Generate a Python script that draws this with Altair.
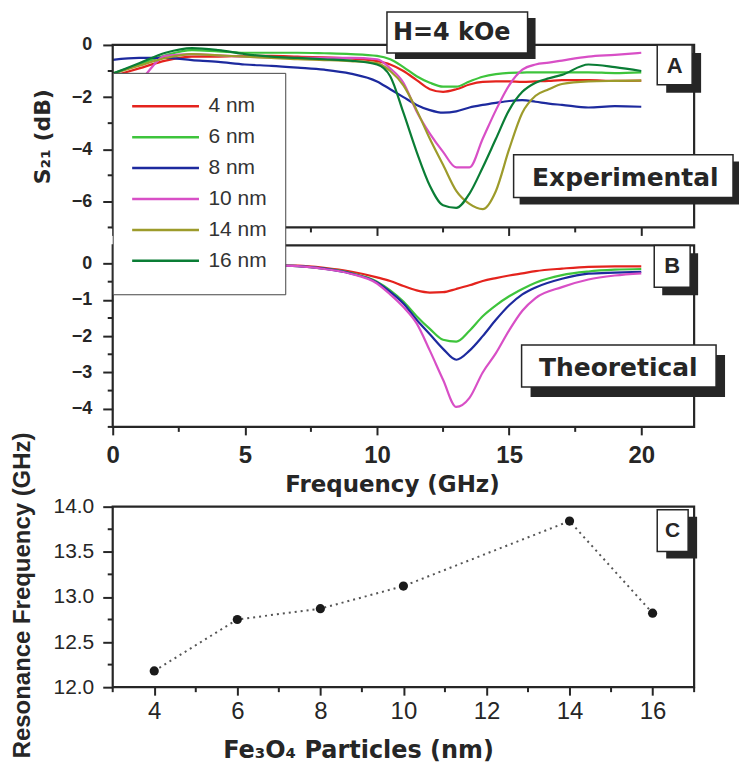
import altair as alt
import pandas as pd

# ---------------- data ----------------
SIZES = ["4 nm", "6 nm", "8 nm", "10 nm", "14 nm", "16 nm"]
COLORS = ["#e4231d", "#3ec43c", "#1d2a9e", "#d84fc6", "#9d9b2b", "#0a7d35"]

# Panel A : experimental S21 (dB) vs frequency (GHz)
EXP_FREQ = [0, 1, 2, 3, 4, 5, 6, 7, 8, 9, 10, 10.5, 11, 11.5, 12, 12.5, 13, 13.5,
            14, 14.5, 15, 15.5, 16, 16.5, 17, 18, 19, 20]
EXP_4NM = [-1.2, -0.9, -0.6, -0.45, -0.45, -0.42, -0.42, -0.45, -0.48, -0.52, -0.62,
           -0.75, -1.0, -1.35, -1.7, -1.8, -1.7, -1.52, -1.42, -1.4, -1.4, -1.42, -1.4,
           -1.38, -1.35, -1.35, -1.38, -1.37]
EXP_6NM = [-1.1, -0.75, -0.4, -0.2, -0.25, -0.3, -0.3, -0.3, -0.32, -0.35, -0.42,
           -0.55, -0.85, -1.2, -1.45, -1.6, -1.6, -1.4, -1.22, -1.12, -1.07, -1.06, -1.05,
           -1.05, -1.05, -1.05, -1.08, -1.05]
EXP_8NM = [-0.57, -0.5, -0.5, -0.58, -0.65, -0.75, -0.8, -0.87, -0.95, -1.1, -1.4,
           -1.7, -2.0, -2.3, -2.5, -2.6, -2.55, -2.4, -2.3, -2.22, -2.15, -2.12, -2.18,
           -2.25, -2.3, -2.4, -2.35, -2.37]
EXP_10NM = [-2.0, -1.4, -0.42, -0.35, -0.4, -0.45, -0.48, -0.5, -0.5, -0.5, -0.55,
            -0.9, -1.45, -2.55, -3.4, -4.1, -4.7, -4.7, -3.6, -2.5, -1.55, -0.95, -0.75,
            -0.68, -0.6, -0.45, -0.38, -0.3]
EXP_14NM = [-1.1, -0.8, -0.5, -0.35, -0.4, -0.45, -0.5, -0.55, -0.58, -0.62, -0.7,
            -1.0, -1.55, -2.5, -3.6, -4.6, -5.6, -6.1, -6.3, -5.6, -4.0, -2.6, -1.95,
            -1.7, -1.5, -1.4, -1.38, -1.37]
EXP_16NM = [-1.1, -0.7, -0.3, -0.12, -0.2, -0.35, -0.45, -0.5, -0.55, -0.6, -0.75,
            -1.2, -2.6, -4.1, -5.4, -6.15, -6.25, -5.7, -4.7, -3.6, -2.5, -1.8, -1.45,
            -1.28, -1.15, -0.75, -0.85, -1.0]

# Panel B : theoretical S21 (dB) vs frequency (GHz)
THEO_FREQ = [0, 2, 4, 6, 7, 8, 9, 10, 10.5, 11, 11.5, 12, 12.5, 13, 13.5, 14, 14.5,
             15, 15.5, 16, 17, 18, 19, 20]
THEO_4NM = [-0.02, -0.03, -0.04, -0.05, -0.06, -0.12, -0.22, -0.38, -0.48, -0.62, -0.74,
            -0.8, -0.79, -0.7, -0.6, -0.48, -0.4, -0.33, -0.27, -0.21, -0.14, -0.09,
            -0.08, -0.08]
THEO_6NM = [-0.02, -0.03, -0.04, -0.05, -0.07, -0.14, -0.26, -0.5, -0.74, -1.05, -1.45,
            -1.8, -2.1, -2.15, -1.85, -1.45, -1.15, -0.9, -0.7, -0.53, -0.32, -0.22,
            -0.17, -0.15]
THEO_8NM = [-0.02, -0.03, -0.04, -0.05, -0.07, -0.14, -0.27, -0.52, -0.78, -1.1, -1.55,
            -1.95, -2.35, -2.65, -2.4, -2.0, -1.55, -1.15, -0.85, -0.66, -0.42, -0.28,
            -0.25, -0.23]
THEO_10NM = [-0.02, -0.03, -0.04, -0.05, -0.07, -0.15, -0.28, -0.55, -0.85, -1.2, -1.65,
             -2.4, -3.2, -3.95, -3.7, -3.0, -2.47, -1.84, -1.3, -0.95, -0.65, -0.44,
             -0.33, -0.27]

# Panel C : resonance frequency vs particle size
PARTICLE_NM = [4, 6, 8, 10, 14, 16]
RES_FREQ_GHZ = [12.18, 12.75, 12.87, 13.12, 13.84, 12.82]

# tick values
X_MAJOR = [0, 5, 10, 15, 20]
X_MINOR = [2.5, 7.5, 12.5, 17.5]
A_Y_MAJOR = [0, -2, -4, -6]
A_Y_MINOR = [-1, -3, -5, -7]
B_Y_MAJOR = [0, -1, -2, -3, -4]
B_Y_MINOR = [-0.5, -1.5, -2.5, -3.5, -4.5]
C_X_MAJOR = [4, 6, 8, 10, 12, 14, 16]
C_X_MINOR = [3, 5, 7, 9, 11, 13, 15, 17]
C_Y_MAJOR = [12.0, 12.5, 13.0, 13.5, 14.0]
C_Y_MINOR = [12.25, 12.75, 13.25, 13.75]

# ---------------- helpers ----------------
INK = "#262626"
W = 583
HA, HB, HC = 183, 182, 181
C_GAP = 62
HC_VIEW = HC + C_GAP
SANS = "Liberation Sans"
WIDE = "DejaVu Sans"
ONE = pd.DataFrame({"k": [0]})


def to_long(freq, series):
    rows = []
    for name, vals in zip(SIZES, series):
        for f, v in zip(freq, vals):
            rows.append({"size": name, "freq": f, "dB": v})
    return pd.DataFrame(rows)


exp_df = to_long(EXP_FREQ, [EXP_4NM, EXP_6NM, EXP_8NM, EXP_10NM, EXP_14NM, EXP_16NM])
theo_df = to_long(THEO_FREQ, [THEO_4NM, THEO_6NM, THEO_8NM, THEO_10NM])
res_df = pd.DataFrame({"nm": PARTICLE_NM, "ghz": RES_FREQ_GHZ})


def frame(x1, y1, x2, y2):
    return alt.Chart(ONE).mark_rect(fill="transparent", stroke=INK, strokeWidth=2.2).encode(
        x=alt.value(x1), x2=alt.value(x2), y=alt.value(y1), y2=alt.value(y2))


def tag(x1, y1, x2, y2, dx, dy, text, font, size, cx, cy):
    shadow = alt.Chart(ONE).mark_rect(fill=INK).encode(
        x=alt.value(x1 + dx), x2=alt.value(x2 + dx),
        y=alt.value(y1 + dy), y2=alt.value(y2 + dy))
    face = alt.Chart(ONE).mark_rect(fill="white", stroke=INK, strokeWidth=1.5).encode(
        x=alt.value(x1), x2=alt.value(x2), y=alt.value(y1), y2=alt.value(y2))
    label = alt.Chart(ONE).mark_text(
        text=text, font=font, fontSize=size, fontWeight="bold", color=INK,
        align="center", baseline="middle").encode(x=alt.value(cx), y=alt.value(cy))
    return [shadow, face, label]


def y_minor(vals, y_enc_fn):
    # minor ticks: same field name and axis as the main layer so the axes merge
    return alt.Chart(pd.DataFrame({"v": vals})).transform_calculate(
        **{y_enc_fn[0]: "datum.v"}).mark_rule(color=INK, strokeWidth=2).encode(
        y=y_enc_fn[1], x=alt.value(-5), x2=alt.value(0))


def x_minor(vals, x_enc_fn, h):
    return alt.Chart(pd.DataFrame({"v": vals})).transform_calculate(
        **{x_enc_fn[0]: "datum.v"}).mark_rule(color=INK, strokeWidth=2).encode(
        x=x_enc_fn[1], y=alt.value(h), y2=alt.value(h + 5))


def y_axis_ab(values, title=None, title_x=-70, h=HA):
    kw = dict(values=values, labelFont=SANS, labelFontSize=18, labelFontWeight="bold",
              labelColor=INK, labelPadding=11, labelFlush=False, tickSize=10, tickWidth=2,
              tickColor=INK, domain=False, grid=False)
    if title:
        return alt.Axis(title=title, titleFont=WIDE, titleFontSize=22, titleFontWeight="bold",
                        titleColor=INK, titleX=title_x, titleY=h / 2, titleBaseline="middle",
                        titleAngle=270, **kw)
    return alt.Axis(title=None, **kw)


x_scale = alt.Scale(domain=[0, 22], nice=False)
ya_scale = alt.Scale(domain=[-7, 0], nice=False)
yb_scale = alt.Scale(domain=[-4.5, 0.5], nice=False)
xc_scale = alt.Scale(domain=[3, 17], nice=False)
yc_scale = alt.Scale(domain=[12, 14], range=[HC_VIEW, C_GAP], nice=False, zero=False)

# ---------------- panel A ----------------
xa = alt.X("freq:Q", scale=x_scale,
           axis=alt.Axis(values=X_MAJOR, labels=False, tickSize=8, tickWidth=2,
                         tickColor=INK, domain=False, grid=False, title=None))
ya = alt.Y("dB:Q", scale=ya_scale, axis=y_axis_ab(A_Y_MAJOR, "S₂₁ (dB)", -70, HA))
lines_a = alt.Chart(exp_df).mark_line(strokeWidth=2.2, interpolate="monotone").encode(
    x=xa, y=ya,
    color=alt.Color("size:N", scale=alt.Scale(domain=SIZES, range=COLORS), legend=None),
)
panel_a = alt.layer(
    lines_a,
    y_minor(A_Y_MINOR, ("dB", ya)),
    x_minor(X_MINOR, ("freq", xa), HA),
    frame(0, 0, W, HA),
    *tag(275, -33, 416, 8, 8, 6, "H=4 kOe", WIDE, 24, 340, -12),
    *tag(546, 0, 581, 40, 9, 8, "A", SANS, 22, 563.5, 21),
    *tag(402, 110, 622, 153, 6, 7, "Experimental", WIDE, 25, 514, 133),
).properties(width=W, height=HA)

# ---------------- panel B ----------------
legend_b = alt.Legend(
    orient="none", legendX=0, legendY=-173, title=None, symbolType="stroke",
    symbolSize=4489, symbolStrokeWidth=2.5, labelFont=SANS, labelFontSize=21,
    labelColor="#333333", labelOffset=8, fillColor="white", strokeColor="#444444",
    padding=18, clipHeight=31, rowPadding=0, labelLimit=200)

xb = alt.X("freq:Q", scale=x_scale,
           axis=alt.Axis(values=X_MAJOR, labelFont=SANS, labelFontSize=24,
                         labelFontWeight="bold", labelColor=INK, labelPadding=9,
                         labelFlush=False, tickSize=8, tickWidth=2, tickColor=INK,
                         domain=False, grid=False, title="Frequency (GHz)", titleFont=WIDE,
                         titleFontSize=23, titleFontWeight="bold", titleColor=INK,
                         titleX=280, titleY=65, titleBaseline="alphabetic"))
yb = alt.Y("dB:Q", scale=yb_scale, axis=y_axis_ab(B_Y_MAJOR))
lines_b = alt.Chart(theo_df).mark_line(strokeWidth=2.2, interpolate="monotone").encode(
    x=xb, y=yb,
    color=alt.Color("size:N", scale=alt.Scale(domain=SIZES, range=COLORS), legend=legend_b),
)
panel_b = alt.layer(
    lines_b,
    y_minor(B_Y_MINOR, ("dB", yb)),
    x_minor(X_MINOR, ("freq", xb), HB),
    frame(0, 0, W, HB),
    *tag(543, 0, 579, 42, 8, 8, "B", SANS, 22, 561, 21),
    *tag(410, 100, 605, 142, 9, 10, "Theoretical", WIDE, 25, 507, 123),
).properties(width=W, height=HB)

# ---------------- panel C ----------------
xc = alt.X("nm:Q", scale=xc_scale,
           axis=alt.Axis(values=C_X_MAJOR, labelFont=SANS, labelFontSize=24,
                         labelColor=INK, labelPadding=4, labelFlush=False, tickSize=8,
                         tickWidth=2, tickColor=INK, domain=False, grid=False,
                         title="Fe₃O₄ Particles (nm)", titleFont=WIDE, titleFontSize=24,
                         titleFontWeight="bold", titleColor=INK, titleX=246, titleY=71,
                         titleBaseline="alphabetic"))
yc = alt.Y("ghz:Q", scale=yc_scale,
           axis=alt.Axis(values=C_Y_MAJOR, format=".1f", labelFont=SANS, labelFontSize=21,
                         labelColor=INK, labelPadding=9, labelFlush=False, tickSize=10,
                         tickWidth=2, tickColor=INK, domain=False, grid=False,
                         title="Resonance Frequency (GHz)", titleFont=SANS, titleFontSize=24,
                         titleFontWeight="bold", titleColor=INK, titleX=-90,
                         titleY=C_GAP + HC / 2 - 2, titleBaseline="middle", titleAngle=270))
line_c = alt.Chart(res_df).mark_line(color="#555555", strokeWidth=2, strokeDash=[2, 4]).encode(x=xc, y=yc)
pts_c = alt.Chart(res_df).mark_circle(size=85, color="#1a1a1a", opacity=1).encode(x=xc, y=yc)
panel_c = alt.layer(
    line_c,
    pts_c,
    y_minor(C_Y_MINOR, ("ghz", yc)),
    x_minor(C_X_MINOR, ("nm", xc), HC_VIEW),
    frame(0, C_GAP, W, HC_VIEW),
    *tag(546, C_GAP + 3, 577, C_GAP + 45, 9, 7, "C", SANS, 21, 561.5, C_GAP + 24),
).properties(width=W, height=HC_VIEW)

chart = alt.vconcat(panel_a, panel_b, panel_c, spacing=18, bounds="flush").resolve_scale(
    color="independent").resolve_legend(color="independent").properties(
    padding={"left": 2, "top": 1, "right": 0, "bottom": 0}
).configure_view(stroke="transparent")

chart.save("out.html", embed_options={"renderer": "svg", "actions": False})
